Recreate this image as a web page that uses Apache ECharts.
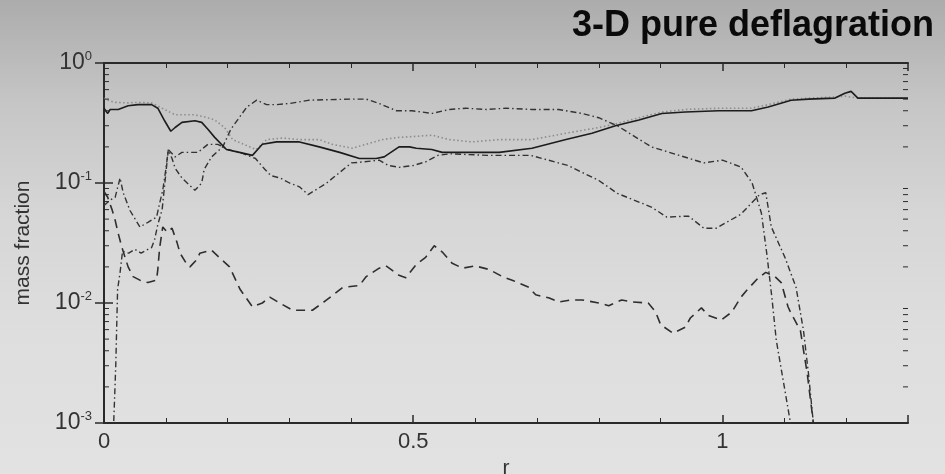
<!DOCTYPE html>
<html>
<head>
<meta charset="utf-8">
<script src="https://cdn.jsdelivr.net/npm/echarts@6/dist/echarts.min.js"></script>
<style>
  html, body { margin: 0; padding: 0; }
  body { background: linear-gradient(#acacac 0%, #c6c6c6 22%, #d6d6d6 45%, #dedede 70%, #e2e2e2 100%); }
  #chart { width: 945px; height: 474px; }
</style>
</head>
<body>
<div id="chart"></div>
<script>
// solid curve
var rSolid = [0, 0.006, 0.01, 0.023, 0.039, 0.055, 0.077, 0.087, 0.098, 0.108, 0.115, 0.126, 0.147, 0.158, 0.168, 0.179, 0.198, 0.219, 0.24, 0.256, 0.279, 0.316, 0.348, 0.381, 0.413, 0.44, 0.453, 0.477, 0.494, 0.505, 0.53, 0.547, 0.585, 0.639, 0.692, 0.747, 0.789, 0.827, 0.865, 0.902, 0.94, 0.994, 1.047, 1.074, 1.111, 1.139, 1.182, 1.198, 1.208, 1.219, 1.3];
var vSolid = [0.42, 0.38, 0.41, 0.41, 0.44, 0.45, 0.45, 0.42, 0.33, 0.27, 0.29, 0.32, 0.33, 0.32, 0.28, 0.24, 0.19, 0.18, 0.17, 0.21, 0.22, 0.22, 0.2, 0.18, 0.16, 0.16, 0.165, 0.2, 0.2, 0.195, 0.19, 0.18, 0.18, 0.18, 0.195, 0.23, 0.26, 0.3, 0.335, 0.38, 0.39, 0.4, 0.4, 0.43, 0.49, 0.5, 0.51, 0.56, 0.58, 0.51, 0.51];

// dotted curve
var rDotted = [0, 0.006, 0.018, 0.039, 0.055, 0.077, 0.09, 0.098, 0.115, 0.131, 0.147, 0.163, 0.179, 0.195, 0.208, 0.246, 0.263, 0.289, 0.316, 0.348, 0.369, 0.402, 0.45, 0.477, 0.531, 0.558, 0.595, 0.639, 0.692, 0.747, 0.8, 0.827, 0.865, 0.902, 0.94, 0.994, 1.047, 1.074, 1.111, 1.139, 1.182, 1.198, 1.208, 1.219, 1.3];
var vDotted = [0.51, 0.49, 0.47, 0.465, 0.47, 0.465, 0.43, 0.41, 0.37, 0.37, 0.37, 0.355, 0.335, 0.29, 0.23, 0.19, 0.23, 0.237, 0.23, 0.23, 0.21, 0.195, 0.23, 0.24, 0.25, 0.23, 0.22, 0.23, 0.23, 0.26, 0.29, 0.31, 0.35, 0.39, 0.41, 0.42, 0.42, 0.45, 0.5, 0.51, 0.52, 0.53, 0.52, 0.51, 0.51];

// upper dash-dot curve
var rDashDotA = [0.015, 0.019, 0.022, 0.026, 0.03, 0.04, 0.05, 0.06, 0.071, 0.077, 0.082, 0.087, 0.094, 0.1, 0.104, 0.11, 0.115, 0.126, 0.147, 0.158, 0.162, 0.174, 0.192, 0.205, 0.231, 0.247, 0.263, 0.279, 0.3, 0.332, 0.397, 0.424, 0.445, 0.473, 0.498, 0.531, 0.558, 0.585, 0.618, 0.65, 0.692, 0.735, 0.773, 0.8, 0.83, 0.885, 0.93, 0.97, 1.0, 1.03, 1.048, 1.063, 1.072, 1.08, 1.087, 1.1, 1.11, 1.114];
var vDashDotA = [0.0008, 0.003, 0.013, 0.018, 0.027, 0.026, 0.028, 0.026, 0.028, 0.029, 0.034, 0.045, 0.06, 0.12, 0.19, 0.16, 0.133, 0.11, 0.087, 0.1, 0.13, 0.165, 0.2, 0.28, 0.43, 0.49, 0.45, 0.45, 0.46, 0.49, 0.5, 0.5, 0.46, 0.4, 0.4, 0.38, 0.41, 0.42, 0.41, 0.42, 0.41, 0.41, 0.38, 0.35, 0.3, 0.2, 0.17, 0.147, 0.155, 0.136, 0.1, 0.056, 0.025, 0.011, 0.0049, 0.002, 0.001, 0.0008];

// lower dash-dot curve
var rDashDotB = [0, 0.01, 0.018, 0.026, 0.031, 0.042, 0.058, 0.071, 0.085, 0.09, 0.095, 0.1, 0.104, 0.115, 0.126, 0.142, 0.152, 0.168, 0.184, 0.2, 0.22, 0.245, 0.26, 0.27, 0.285, 0.3, 0.316, 0.33, 0.36, 0.4, 0.42, 0.445, 0.46, 0.477, 0.5, 0.52, 0.54, 0.56, 0.62, 0.69, 0.75, 0.8, 0.83, 0.885, 0.91, 0.945, 0.97, 0.99, 1.03, 1.06, 1.07, 1.079, 1.101, 1.119, 1.131, 1.139, 1.147, 1.149];
var vDashDotB = [0.065, 0.072, 0.076, 0.11, 0.083, 0.059, 0.043, 0.047, 0.052, 0.068, 0.087, 0.13, 0.19, 0.165, 0.18, 0.18, 0.18, 0.21, 0.21, 0.19, 0.18, 0.16, 0.13, 0.115, 0.11, 0.1, 0.093, 0.08, 0.1, 0.147, 0.15, 0.155, 0.14, 0.135, 0.14, 0.15, 0.17, 0.175, 0.17, 0.17, 0.14, 0.105, 0.082, 0.063, 0.052, 0.053, 0.042, 0.042, 0.055, 0.08, 0.083, 0.043, 0.024, 0.0135, 0.0059, 0.0026, 0.001, 0.0008];

// dashed curve
var rDashed = [0, 0.006, 0.013, 0.018, 0.023, 0.029, 0.039, 0.047, 0.058, 0.071, 0.085, 0.087, 0.09, 0.095, 0.102, 0.11, 0.118, 0.123, 0.134, 0.139, 0.15, 0.155, 0.174, 0.179, 0.203, 0.22, 0.24, 0.256, 0.268, 0.284, 0.305, 0.337, 0.36, 0.386, 0.413, 0.424, 0.445, 0.456, 0.477, 0.488, 0.505, 0.52, 0.534, 0.547, 0.563, 0.58, 0.6, 0.623, 0.644, 0.66, 0.687, 0.698, 0.72, 0.735, 0.756, 0.773, 0.8, 0.816, 0.837, 0.853, 0.88, 0.892, 0.9, 0.92, 0.94, 0.948, 0.966, 0.977, 0.998, 1.015, 1.03, 1.04, 1.058, 1.07, 1.085, 1.095, 1.106, 1.11, 1.126, 1.137, 1.147, 1.149];
var vDashed = [0.085, 0.076, 0.06, 0.049, 0.038, 0.029, 0.02, 0.0166, 0.0155, 0.0148, 0.0155, 0.019, 0.029, 0.043, 0.039, 0.042, 0.032, 0.026, 0.021, 0.02, 0.023, 0.026, 0.0275, 0.026, 0.02, 0.013, 0.0093, 0.01, 0.0112, 0.01, 0.0087, 0.0087, 0.0106, 0.0135, 0.014, 0.0166, 0.0195, 0.0204, 0.017, 0.0162, 0.021, 0.024, 0.03, 0.0266, 0.0214, 0.0195, 0.0204, 0.019, 0.0166, 0.0155, 0.0135, 0.0117, 0.011, 0.0102, 0.0106, 0.0106, 0.01, 0.0095, 0.0106, 0.0102, 0.01, 0.0084, 0.0066, 0.0056, 0.0063, 0.0075, 0.0091, 0.0079, 0.0072, 0.0084, 0.0112, 0.0129, 0.0162, 0.018, 0.0166, 0.0148, 0.0093, 0.0084, 0.0059, 0.0026, 0.001, 0.0008];

// log minor ticks (2..9 per decade)
var yMinorTicks = [0.002, 0.003, 0.004, 0.005, 0.006, 0.007, 0.008, 0.009,
                   0.02, 0.03, 0.04, 0.05, 0.06, 0.07, 0.08, 0.09,
                   0.2, 0.3, 0.4, 0.5, 0.6, 0.7, 0.8, 0.9];

var FONT = 'Liberation Sans, Arial, sans-serif';
var AXIS = '#2a2a2a';

function pairs(r, v) {
	return r.map(function (x, i) { return [x, v[i]]; });
}

function lineSeries(r, v, color, width, type) {
	return {
		type: 'line',
		data: pairs(r, v),
		symbol: 'none',
		silent: true,
		lineStyle: { color: color, width: width, type: type },
		z: 3
	};
}

var chart = echarts.init(document.getElementById('chart'));

var xAxisBase = {
	type: 'value',
	min: 0,
	max: 1.3,
	interval: 0.5,
	axisLine: { show: true, lineStyle: { color: AXIS, width: 2 } },
	axisTick: { show: true, inside: true, length: 8, lineStyle: { color: AXIS, width: 1.5 } },
	minorTick: { show: true, splitNumber: 5, length: 5, lineStyle: { color: AXIS, width: 1 } },
	splitLine: { show: false }
};

var yAxisBase = {
	type: 'log',
	logBase: 10,
	min: 0.001,
	max: 1,
	axisLine: { show: true, lineStyle: { color: AXIS, width: 2 } },
	axisTick: { show: true, inside: true, length: 9, lineStyle: { color: AXIS, width: 1.5 } },
	minorTick: { show: false },
	splitLine: { show: false }
};

var option = {
	animation: false,
	backgroundColor: 'transparent',
	title: {
		text: '3-D pure deflagration',
		right: 6,
		top: 3,
		textStyle: { fontFamily: FONT, fontSize: 36, fontWeight: 'bold', color: '#0a0a0a' }
	},
	grid: { left: 104, right: 37, top: 63, bottom: 51, containLabel: false, outerBoundsMode: 'none' },
	xAxis: [
		Object.assign({}, xAxisBase, {
			position: 'bottom',
			name: 'r',
			nameLocation: 'middle',
			nameGap: 28,
			nameTextStyle: { fontFamily: FONT, fontSize: 21, color: '#333' },
			axisLabel: { margin: 8, fontFamily: FONT, fontSize: 22, color: '#333', showMaxLabel: false }
		}),
		Object.assign({}, xAxisBase, { position: 'top', axisLabel: { show: false } })
	],
	yAxis: [
		Object.assign({}, yAxisBase, {
			position: 'left',
			name: 'mass fraction',
			nameLocation: 'middle',
			nameGap: 70,
			nameTextStyle: { fontFamily: FONT, fontSize: 21, color: '#333' },
			axisLabel: {
				margin: 12,
				color: '#333',
				formatter: function (v) {
					var e = Math.round(Math.log(v) / Math.LN10);
					return '{b|10}{s|' + e + '}';
				},
				rich: {
					b: { fontFamily: FONT, fontSize: 23, color: '#333', lineHeight: 26 },
					s: { fontFamily: FONT, fontSize: 13, color: '#333', verticalAlign: 'top', lineHeight: 13 }
				}
			}
		}),
		Object.assign({}, yAxisBase, { position: 'right', axisLabel: { show: false } })
	],
	series: [
		lineSeries(rDotted, vDotted, '#8c8c8c', 1.6, [1.5, 2.5]),
		lineSeries(rDashed, vDashed, '#2e2e2e', 1.6, [9, 6]),
		lineSeries(rDashDotB, vDashDotB, '#333333', 1.4, [6, 3, 1.5, 3]),
		lineSeries(rDashDotA, vDashDotA, '#333333', 1.4, [6, 3, 1.5, 3]),
		lineSeries(rSolid, vSolid, '#1c1c1c', 1.6, 'solid'),
		{
			// minor log ticks on left and right frame edges
			type: 'custom',
			silent: true,
			z: 5,
			clip: false,
			data: yMinorTicks.map(function (v) { return [0, v]; }),
			renderItem: function (params, api) {
				var v = api.value(1);
				var l = api.coord([0, v]);
				var r = api.coord([1.3, v]);
				var st = { stroke: AXIS, lineWidth: 1 };
				return {
					type: 'group',
					children: [
						{ type: 'line', shape: { x1: l[0], y1: l[1], x2: l[0] + 5, y2: l[1] }, style: st },
						{ type: 'line', shape: { x1: r[0] - 5, y1: r[1], x2: r[0], y2: r[1] }, style: st }
					]
				};
			}
		}
	]
};

chart.setOption(option);
</script>
</body>
</html>
